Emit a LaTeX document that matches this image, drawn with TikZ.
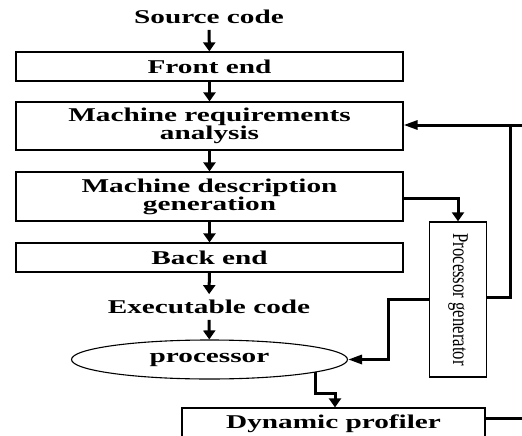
\documentclass[tikz,border=0pt]{standalone}
\usepackage{fontspec}
\setmainfont{Liberation Serif}
\newfontfamily\widefont[FakeStretch=1.5]{Liberation Serif}
\usetikzlibrary{arrows.meta,shapes.geometric,calc}
\begin{document}
\begin{tikzpicture}[x=1pt,y=-1pt,
  lab/.style={font=\widefont\bfseries\fontsize{19.5}{18}\selectfont,align=center,inner sep=0pt},
  free/.style={lab,outer sep=6pt},
  stage/.style={lab,draw,line width=1.2pt,minimum width=387pt},
  conn/.style={line width=3pt},
  arrv/.style={conn,-{Triangle[length=9pt,width=12pt]}},
  arrh/.style={conn,-{Triangle[length=14pt,width=9pt]}}]
\useasboundingbox (0,0) rectangle (522,436);
\node[free] (src) at (209,17) {Source code};
\node[stage,minimum height=29pt] (fe) at (209.5,66.5) {Front end};
\node[stage,minimum height=48pt] (mra) at (209.5,126) {Machine requirements\\analysis};
\node[stage,minimum height=49pt] (mdg) at (209.5,196.5) {Machine description\\generation};
\node[stage,minimum height=29pt] (be) at (209.5,257.5) {Back end};
\node[free] (exe) at (209,307) {Executable code};
\node[lab,draw,ellipse,line width=1.1pt,minimum width=276pt,minimum height=39pt] (proc) at (209.5,359.5) {processor};
\node[draw,line width=1.4pt,minimum width=57pt,minimum height=155pt,inner sep=0pt] (pg) at (458,299.5) {};
\node[rotate=-90,font=\fontsize{16.7}{17}\selectfont,inner sep=0pt] (pgt) at (pg.center) {\scalebox{1}[1.35]{Processor generator}};
\node[stage,minimum width=303pt,minimum height=32pt] (dp) at (333.5,424) {Dynamic profiler};
\coordinate (fb) at (510,125);
\coordinate (pgl) at (388,299);
\coordinate (j1) at (335,393);
\coordinate (far) at (540,418);
\draw[arrv] (src) -- (fe);
\draw[arrv] (fe) -- (mra);
\draw[arrv] (mra) -- (mdg);
\draw[arrv] (mdg) -- (be);
\draw[arrv] (be) -- (exe);
\draw[arrv] (exe) -- (proc);
\draw[arrv] (mdg.east |- 0,198) -| (pg.north);
\draw[arrh] (pg.east |- 0,297) -| (fb) -- (mra.east |- fb);
\draw[conn] (fb) -- (far |- fb) -- (far) -- (dp.east |- far);
\draw[arrh] (pg.west |- pgl) -- (pgl) |- (proc.east);
\draw[arrv] (proc.-7.6) |- (j1) -- (j1 |- dp.north);
\end{tikzpicture}
\end{document}
